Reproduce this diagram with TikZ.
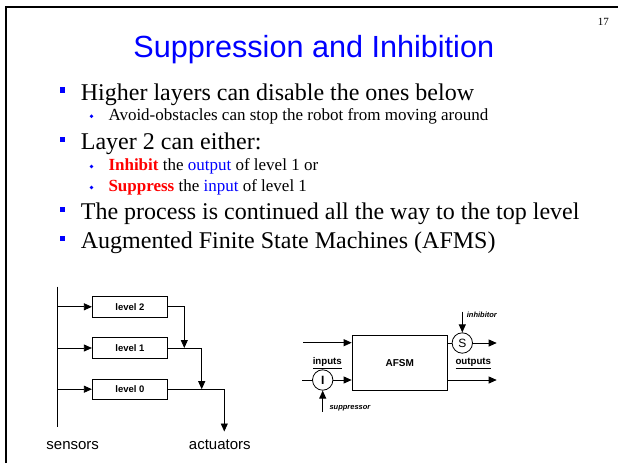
\documentclass[tikz,border=0pt]{standalone}
\usepackage{fontspec}
\setmainfont{Liberation Serif}
\newfontfamily\arial{Liberation Sans}
\usetikzlibrary{arrows.meta}
\begin{document}
\begin{tikzpicture}[x=1pt,y=-1pt,
  tip/.style={-{Triangle[length=8pt,width=7pt]}},
  wire/.style={line width=0.8pt},
  txt/.style={inner sep=0pt,anchor=base west},
  mainline/.style={txt,font=\fontsize{24}{28}\selectfont},
  subline/.style={txt,font=\fontsize{17}{20}\selectfont},
  levelbox/.style={draw,line width=0.8pt,minimum width=75.4pt,minimum height=20.5pt,inner sep=0pt,font=\arial\fontsize{9.5}{11}\selectfont\bfseries},
  gatecirc/.style={draw,circle,line width=0.8pt,minimum size=20.4pt,inner sep=0pt,font=\arial\fontsize{12}{14}\selectfont},
  smalllab/.style={inner sep=0pt,font=\arial\fontsize{9.7}{11}\selectfont\bfseries},
  tinylab/.style={txt,font=\arial\fontsize{7.5}{9}\selectfont\bfseries\itshape},
  biglab/.style={inner sep=0pt,anchor=base,font=\arial\fontsize{15}{18}\selectfont},
  sqbullet/.style={fill=blue},
  dotbullet/.style={fill=blue}
]
\useasboundingbox (0,0) rectangle (618,463);
\fill[white] (0,0) rectangle (618,463);
% frame
\draw[line width=2.2pt] (6,463) -- (6,7) -- (618,7);
% page number and title
\node[inner sep=0pt,anchor=base east,font=\fontsize{11}{13}\selectfont] (pg) at (609,25) {17};
\node[inner sep=0pt,anchor=base,text=blue,font=\arial\fontsize{30.6}{36}\selectfont] (title) at (313.8,57.3) {Suppression and Inhibition};
% bullets
\fill[sqbullet] (60,87.3) rectangle (65.3,92.6);
\node[mainline] (b1) at (80.7,100) {Higher layers can disable the ones below};
\fill[dotbullet] (91.5,116.2) circle (1.9);
\node[subline] (b1a) at (108.3,120.5) {Avoid-obstacles can stop the robot from moving around};
\fill[sqbullet] (60,136.6) rectangle (65.3,141.9);
\node[mainline] (b2) at (80.7,149.3) {Layer 2 can either:};
\fill[dotbullet] (91.5,166.4) circle (1.9);
\node[subline] (b2a) at (108.3,170.7) {{\bfseries\color{red}Inhibit} the {\color{blue}output} of level 1 or};
\fill[dotbullet] (91.5,187.4) circle (1.9);
\node[subline] (b2b) at (108.3,191.7) {{\bfseries\color{red}Suppress} the {\color{blue}input} of level 1};
\fill[sqbullet] (60,206.6) rectangle (65.3,211.9);
\node[mainline] (b3) at (80.7,219.3) {The process is continued all the way to the top level};
\fill[sqbullet] (60,235.6) rectangle (65.3,240.9);
\node[mainline] (b4) at (80.7,248.3) {Augmented Finite State Machines (AFMS)};

% ---- layered diagram ----
\coordinate (stop) at (57.5,286.7);
\coordinate (sbot) at (57.5,426.7);
\draw[wire] (stop) -- (sbot);
\node[levelbox] (l2) at (130,306.8) {level 2};
\node[levelbox] (l1) at (130,348) {level 1};
\node[levelbox] (l0) at (130,389.2) {level 0};
\coordinate (s2) at (57.5,306.8);
\coordinate (s1) at (57.5,348);
\coordinate (s0) at (57.5,389.2);
\draw[wire,tip] (s2) -- (l2.west);
\draw[wire,tip] (s1) -- (l1.west);
\draw[wire,tip] (s0) -- (l0.west);
\coordinate (j1) at (184.3,348);
\coordinate (j0) at (201.7,389.2);
\coordinate (act) at (224.3,431.5);
\draw[wire,tip] (l2.east) -| (j1);
\draw[wire,tip] (l1.east) -| (j0);
\draw[wire,tip] (l0.east) -| (act);
\node[biglab] (sens) at (72.7,449.3) {sensors};
\node[biglab] (acts) at (219.8,449.3) {actuators};

% ---- AFSM diagram ----
\node[draw,line width=0.8pt,minimum width=95.3pt,minimum height=55.7pt,inner sep=0pt,font=\arial\fontsize{10}{12}\selectfont\bfseries] (afsm) at (399.7,362.9) {AFSM};
\coordinate (in1) at (303.3,342.7);
\draw[wire,tip] (in1) -- (afsm.west |- in1);
\node[gatecirc,font=\arial\fontsize{12}{14}\selectfont\bfseries] (I) at (322.7,380) {I};
\coordinate (in2) at (302,380);
\draw[wire] (in2) -- (I);
\draw[wire,tip] (I) -- (afsm.west |- I);
\coordinate (sup) at (322.7,411.7);
\draw[wire,tip] (sup) -- (I.south);
\node[tinylab] (suplab) at (329.3,409.5) {suppressor};
\node[smalllab,anchor=base] (inlab) at (327.3,364.7) {\underline{inputs}};
\node[gatecirc] (S) at (462.3,343) {S};
\draw[wire] (afsm.east |- S) -- (S);
\coordinate (out1) at (496.7,343);
\draw[wire,tip] (S) -- (out1);
\coordinate (inh) at (462.3,311.7);
\draw[wire,tip] (inh) -- (S.north);
\node[tinylab] (inhlab) at (466.7,317.3) {inhibitor};
\coordinate (out2) at (496.7,380);
\draw[wire,tip] (afsm.east |- I) -- (out2);
\node[smalllab,anchor=base] (outlab) at (473.3,364.7) {\underline{outputs}};
\end{tikzpicture}
\end{document}
